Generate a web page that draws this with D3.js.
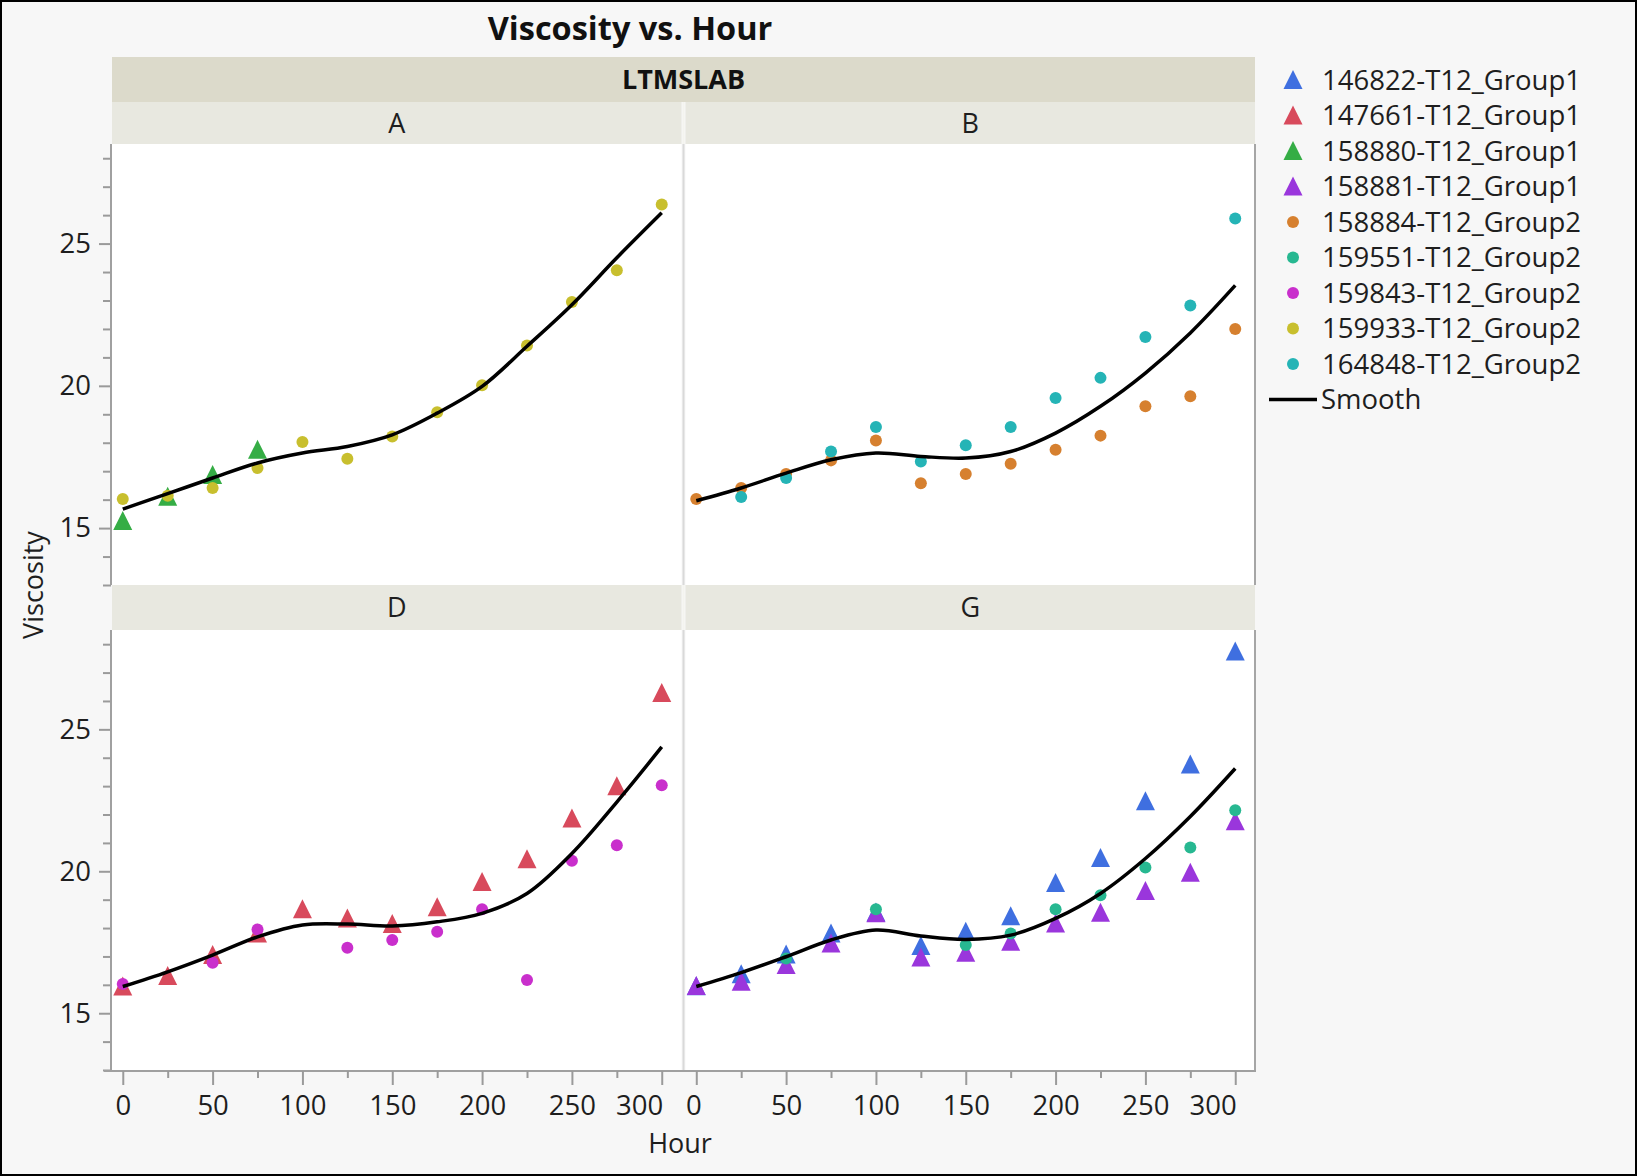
<!DOCTYPE html>
<html><head><meta charset="utf-8">
<script src="https://cdn.jsdelivr.net/npm/d3@7"></script>
<style>
html,body{margin:0;padding:0;background:#f7f7f7;}
svg{display:block;}
text{font-family:"Open Sans","Noto Sans",sans-serif;fill:#1e1e1e;}
</style></head><body>
<svg id="chart" width="1637" height="1176"></svg>
<script>
// ---------------- DATA ----------------
const hours = [0,25,50,75,100,125,150,175,200,225,250,275,300];
const labs = ["A","B","D","G"];
const seriesNames = ["146822-T12_Group1","147661-T12_Group1","158880-T12_Group1","158881-T12_Group1",
  "158884-T12_Group2","159551-T12_Group2","159843-T12_Group2","159933-T12_Group2","164848-T12_Group2"];
const xTicks = [0,50,100,150,200,250,300];
const yTicks = [15,20,25];

// Lab A
const labA_158880 = [15.25,16.10,16.87,17.75,null,null,null,null,null,null,null,null,null];
const labA_159933 = [16.02,16.14,16.41,17.11,18.03,17.44,18.22,19.07,20.02,21.42,22.95,24.06,26.37];
const smoothA     = [15.67,16.21,16.76,17.29,17.64,17.87,18.28,19.04,19.98,21.39,22.85,24.50,26.08];
// Lab B
const labB_158884 = [16.02,16.41,16.90,17.38,18.08,16.58,16.90,17.26,17.75,18.25,19.28,19.63,22.00];
const labB_164848 = [null,16.09,16.76,17.69,18.55,17.34,17.91,18.55,19.57,20.28,21.72,22.82,25.88];
const smoothB     = [15.96,16.41,16.93,17.40,17.64,17.52,17.46,17.69,18.34,19.28,20.45,21.86,23.53];
// Lab D
const labD_147661 = [15.94,16.31,17.05,17.81,18.66,18.34,18.14,18.73,19.62,20.42,21.86,23.00,26.28];
const labD_159843 = [16.03,null,16.78,17.95,null,17.31,17.58,17.87,18.66,16.17,20.37,20.92,23.03];
const smoothD     = [15.94,16.46,17.05,17.69,18.11,18.14,18.07,18.22,18.52,19.22,20.63,22.44,24.38];
// Lab G
const labG_146822 = [15.95,16.37,17.07,17.81,18.55,17.37,17.87,18.42,19.59,20.47,22.47,23.76,27.74];
const labG_158881 = [15.96,16.11,16.70,17.46,18.52,16.96,17.13,17.52,18.16,18.54,19.31,19.95,21.76];
const labG_159551 = [null,null,16.93,null,18.66,null,17.40,17.81,18.66,19.16,20.13,20.84,22.15];
const smoothG     = [15.94,16.43,16.99,17.58,17.93,17.72,17.60,17.75,18.34,19.22,20.45,21.93,23.62];

// ---------------- STYLE ----------------
const seriesColors = ["#3f6fe0","#d84a5c","#35ad45","#9a36dc","#d6802f","#27b891","#c92fcc","#c8bf2e","#25b4b6"];
const seriesShapes = ["tri","tri","tri","tri","dot","dot","dot","dot","dot"];

const panels = [
  {lab:"A", col:0, row:0, series:{"158880-T12_Group1":labA_158880,"159933-T12_Group2":labA_159933}, smooth:smoothA},
  {lab:"B", col:1, row:0, series:{"158884-T12_Group2":labB_158884,"164848-T12_Group2":labB_164848}, smooth:smoothB},
  {lab:"D", col:0, row:1, series:{"147661-T12_Group1":labD_147661,"159843-T12_Group2":labD_159843}, smooth:smoothD},
  {lab:"G", col:1, row:1, series:{"146822-T12_Group1":labG_146822,"158881-T12_Group1":labG_158881,"159551-T12_Group2":labG_159551}, smooth:smoothG}
];

const svg = d3.select("#chart");
const W = 1637, H = 1176;
svg.append("rect").attr("x",1).attr("y",1).attr("width",W-2).attr("height",H-2)
  .attr("fill","#f7f7f7").attr("stroke","#000").attr("stroke-width",2);

const left = 112, right = 1255, gap = 4;
const pw = (right - left - gap) / 2;
const colX = [left, left + pw + gap];
const rowY = [[144,585],[630,1070]];
const headerTop = [102, 585];

const triPath = "M0,-10L9.5,9L-9.5,9Z";

// title
svg.append("text").attr("x",630).attr("y",40).attr("text-anchor","middle")
  .style("font-weight","bold").style("font-size","32.5px").style("fill","#111").text("Viscosity vs. Hour");

// LTMSLAB band
svg.append("rect").attr("x",left).attr("y",57).attr("width",right-left).attr("height",45).attr("fill","#dcdacb");
svg.append("text").attr("x",(left+right)/2).attr("y",89).attr("text-anchor","middle")
  .style("font-weight","bold").style("font-size","27px").style("fill","#111").text("LTMSLAB");

const xScales = colX.map(x0 => d3.scaleLinear().domain([-6,311]).range([x0, x0+pw]));
const yScales = rowY.map(r => d3.scaleLinear().domain([13,28.5]).range([r[1], r[0]]));

panels.forEach(p => {
  const x = xScales[p.col], y = yScales[p.row];
  const x0 = colX[p.col], y0 = rowY[p.row][0], y1 = rowY[p.row][1];
  // header
  svg.append("rect").attr("x",x0).attr("y",headerTop[p.row]).attr("width",pw).attr("height",y0-headerTop[p.row])
    .attr("fill","#e8e8e0");
  svg.append("text").attr("x",x0+pw/2).attr("y",headerTop[p.row]+(y0-headerTop[p.row])/2).attr("dy","0.36em")
    .attr("text-anchor","middle").style("font-size","27px").text(p.lab);
  // plot bg
  svg.append("rect").attr("x",x0).attr("y",y0).attr("width",pw).attr("height",y1-y0).attr("fill","#fff");
  const g = svg.append("g");
  g.append("clipPath").attr("id","clip"+p.lab).append("rect").attr("x",x0-12).attr("y",y0).attr("width",pw+24).attr("height",y1-y0);
  const gc = g.append("g").attr("clip-path","url(#clip"+p.lab+")");
  seriesNames.forEach((name,si) => {
    const vals = p.series[name];
    if(!vals) return;
    const pts = hours.map((h,i)=>({h, v:vals[i]})).filter(d=>d.v!==null);
    if(seriesShapes[si]==="tri"){
      gc.selectAll(null).data(pts).enter().append("path").attr("d",triPath)
        .attr("transform",d=>`translate(${x(d.h)},${y(d.v)})`).attr("fill",seriesColors[si]);
    } else {
      gc.selectAll(null).data(pts).enter().append("circle").attr("cx",d=>x(d.h)).attr("cy",d=>y(d.v))
        .attr("r",6).attr("fill",seriesColors[si]);
    }
  });
  const line = d3.line().x((d,i)=>x(hours[i])).y(d=>y(d)).curve(d3.curveCatmullRom.alpha(0.5));
  gc.append("path").attr("d",line(p.smooth)).attr("fill","none").attr("stroke","#000").attr("stroke-width",3.5);
});

// separators
rowY.forEach(r => {
  svg.append("line").attr("x1",left+pw+gap/2).attr("x2",left+pw+gap/2).attr("y1",r[0]).attr("y2",r[1])
    .attr("stroke","#d9d9d9").attr("stroke-width",2);
  svg.append("line").attr("x1",right).attr("x2",right).attr("y1",r[0]).attr("y2",r[1])
    .attr("stroke","#a6a6a6").attr("stroke-width",2);
});
headerTop.forEach((t,i) => {
  svg.append("line").attr("x1",left+pw+gap/2).attr("x2",left+pw+gap/2).attr("y1",t).attr("y2",rowY[i][0])
    .attr("stroke","#f4f4ef").attr("stroke-width",2);
});

// y axes
yScales.forEach((y,ri) => {
  const minor = d3.range(13,29).filter(v=>!yTicks.includes(v));
  const gMin = svg.append("g").attr("transform",`translate(${left-1},0)`)
    .call(d3.axisLeft(y).tickValues(minor).tickSize(8).tickFormat(""));
  const gMaj = svg.append("g").attr("transform",`translate(${left-1},0)`)
    .call(d3.axisLeft(y).tickValues(yTicks).tickSize(12).tickPadding(8));
  [gMin,gMaj].forEach(gg=>{
    gg.select(".domain").remove();
    gg.selectAll("line").attr("stroke","#9a9a9a").attr("stroke-width",2);
    gg.selectAll("text").style("font-size","27.5px").style("font-family","'Open Sans'").attr("fill","#1e1e1e");
  });
  svg.append("line").attr("x1",left-1).attr("x2",left-1).attr("y1",rowY[ri][0]).attr("y2",rowY[ri][1])
    .attr("stroke","#a0a0a0").attr("stroke-width",2);
});

// x axis
svg.append("line").attr("x1",104).attr("x2",right+1).attr("y1",1071).attr("y2",1071)
  .attr("stroke","#a0a0a0").attr("stroke-width",2);
xScales.forEach((x,ci) => {
  const minor = d3.range(25,301,50);
  const gMin = svg.append("g").attr("transform","translate(0,1071)")
    .call(d3.axisBottom(x).tickValues(minor).tickSize(7).tickFormat(""));
  const gMaj = svg.append("g").attr("transform","translate(0,1071)")
    .call(d3.axisBottom(x).tickValues(xTicks).tickSize(14).tickPadding(10));
  [gMin,gMaj].forEach(gg=>{
    gg.select(".domain").remove();
    gg.selectAll("line").attr("stroke","#9a9a9a").attr("stroke-width",2);
    gg.selectAll("text").style("font-size","27.5px").style("font-family","'Open Sans'").attr("fill","#1e1e1e");
  });
  gMaj.selectAll(".tick").filter(d=>d===300).select("text").attr("text-anchor","end").attr("x",1);
  if(ci===1) gMaj.selectAll(".tick").filter(d=>d===0).select("text").attr("x",-3);
});

// axis titles
svg.append("text").attr("x",680).attr("y",1153).attr("text-anchor","middle").style("font-size","27px").text("Hour");
svg.append("text").attr("transform","translate(43,585) rotate(-90)").attr("text-anchor","middle")
  .style("font-size","27px").text("Viscosity");

// legend
const lg = svg.append("g");
const rowH = 35.5, ly0 = 80;
seriesNames.forEach((name,i) => {
  const cy = ly0 + i*rowH;
  if(seriesShapes[i]==="tri") lg.append("path").attr("d",triPath).attr("transform",`translate(1293,${cy})`).attr("fill",seriesColors[i]);
  else lg.append("circle").attr("cx",1293).attr("cy",cy).attr("r",6).attr("fill",seriesColors[i]);
  lg.append("text").attr("x",1322).attr("y",cy).attr("dy","0.36em").style("font-size","27.5px").text(name);
});
const sy = ly0 + seriesNames.length*rowH;
lg.append("line").attr("x1",1269).attr("x2",1317).attr("y1",sy).attr("y2",sy).attr("stroke","#000").attr("stroke-width",3.5);
lg.append("text").attr("x",1321).attr("y",sy).attr("dy","0.36em").style("font-size","27.5px").text("Smooth");
</script>
</body></html>
